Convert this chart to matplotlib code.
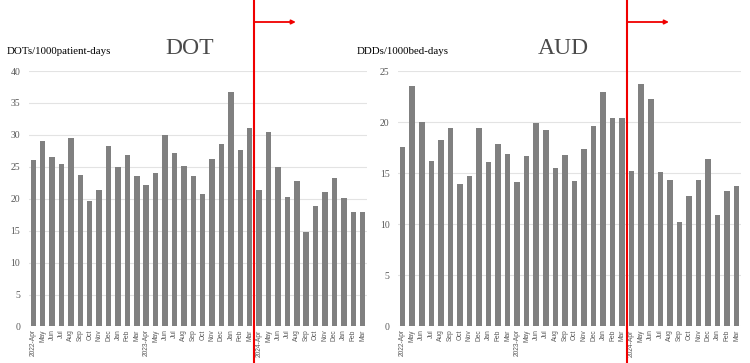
import matplotlib.pyplot as plt
from matplotlib.transforms import blended_transform_factory

# month labels, 2022-Apr .. 2025-Mar
months = ["Apr", "May", "Jun", "Jul", "Aug", "Sep", "Oct", "Nov", "Dec", "Jan", "Feb", "Mar"]
labels = ["2022-Apr"] + months[1:] + ["2023-Apr"] + months[1:] + ["2024-Apr"] + months[1:]

dot = [26.1, 29.0, 26.5, 25.4, 29.5, 23.7, 19.6, 21.4, 28.2, 24.9, 26.8, 23.6,
       22.1, 24.0, 30.0, 27.1, 25.1, 23.6, 20.8, 26.2, 28.5, 36.7, 27.6, 31.1,
       21.4, 30.4, 24.9, 20.2, 22.8, 14.8, 18.9, 21.0, 23.2, 20.1, 17.9, 17.9]
aud = [17.6, 23.5, 20.0, 16.2, 18.2, 19.4, 13.9, 14.7, 19.4, 16.1, 17.9, 16.9,
       14.1, 16.7, 19.9, 19.2, 15.5, 16.8, 14.2, 17.4, 19.6, 22.9, 20.4, 20.4,
       15.2, 23.7, 22.3, 15.1, 14.3, 10.2, 12.8, 14.3, 16.4, 10.9, 13.3, 13.7]

dot_ticks = [0, 5, 10, 15, 20, 25, 30, 35, 40]
aud_ticks = [0, 5, 10, 15, 20, 25]

serif = "Liberation Serif"
grey = "#808080"
txt = "#595959"

fig = plt.figure(figsize=(7.5, 3.63), dpi=100)
ax1 = fig.add_axes([0.0381, 0.1006, 0.4517, 0.7038])
ax2 = fig.add_axes([0.5305, 0.1006, 0.4581, 0.7038])

x = list(range(len(labels)))
for ax, vals, ticks in [(ax1, dot, dot_ticks), (ax2, aud, aud_ticks)]:
    ax.bar(x, vals, width=0.58, color=grey, zorder=2)
    ax.set_xlim(-0.5, len(labels) - 0.5)
    ax.set_ylim(ticks[0], ticks[-1])
    ax.set_yticks(ticks)
    ax.set_yticklabels([str(t) for t in ticks], family=serif, fontsize=7, color=txt)
    ax.set_xticks(x)
    ax.set_xticklabels(labels, rotation=90, fontsize=4.8, color=txt, family="Liberation Sans")
    ax.grid(axis="y", color="#e3e3e3", linewidth=0.8, zorder=0)
    for s in ax.spines.values():
        s.set_visible(False)
    ax.tick_params(length=0, pad=6)
    ax.tick_params(axis="x", pad=2)

    # intervention marker between 2024-Mar and 2024-Apr
    tr = blended_transform_factory(ax.transData, fig.transFigure)
    ax.plot([23.5, 23.5], [0, 1], color="#f00000", linewidth=1.5, transform=tr,
            clip_on=False, zorder=5)
    ax.annotate("", xy=(27.9, 1 - 22 / 363), xytext=(23.5, 1 - 22 / 363),
                xycoords=tr, textcoords=tr,
                arrowprops=dict(arrowstyle="-|>", color="#f00000", lw=1.3,
                                mutation_scale=6, shrinkA=0, shrinkB=0))

fig.text(7 / 750, 1 - 52 / 363, "DOTs/1000patient-days", family=serif, fontsize=7.8,
         va="center", ha="left")
fig.text(357 / 750, 1 - 52 / 363, "DDDs/1000bed-days", family=serif, fontsize=7.8,
         va="center", ha="left")
fig.text(190 / 750, 1 - 49 / 363, "DOT", family=serif, fontsize=17, color="#4a4a4a",
         va="center", ha="center")
fig.text(563 / 750, 1 - 49 / 363, "AUD", family=serif, fontsize=17, color="#4a4a4a",
         va="center", ha="center")

fig.savefig("out.png", dpi=100)
